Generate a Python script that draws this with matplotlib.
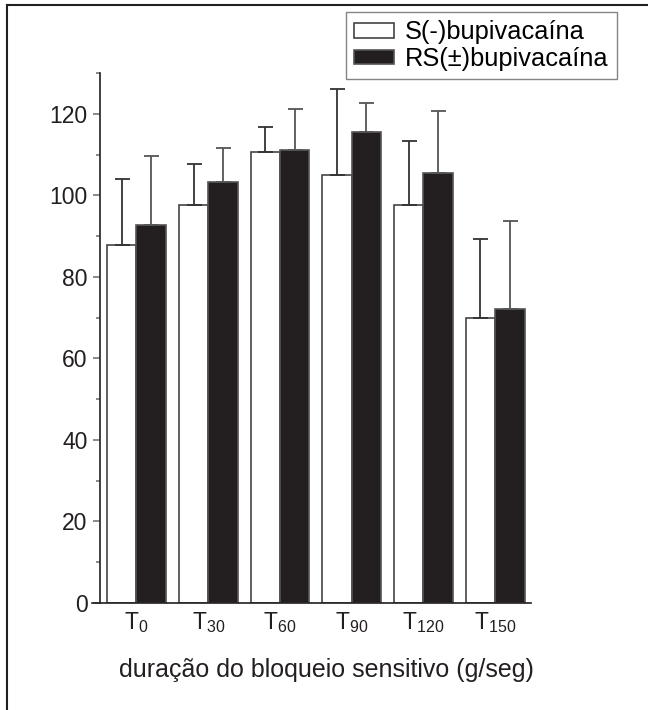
import numpy as np
import matplotlib
matplotlib.use("Agg")
import matplotlib.pyplot as plt
from matplotlib.lines import Line2D

plt.rcParams['font.family'] = ['Liberation Sans', 'DejaVu Sans']

# data
groups = ['0', '30', '60', '90', '120', '150']
s_mean = [87.7, 97.7, 110.5, 105.0, 97.7, 69.9]
s_sd = [16.3, 10.0, 6.3, 21.0, 15.5, 19.4]
rs_mean = [92.8, 103.3, 111.1, 115.5, 105.4, 72.1]
rs_sd = [16.8, 8.2, 10.1, 7.2, 15.2, 21.6]
labels = ['S(-)bupivacaína', 'RS(±)bupivacaína']

ink = '#231f20'
W, H = 648, 710

fig = plt.figure(figsize=(W / 100, H / 100), dpi=100)
ax = fig.add_axes([92 / W, 1 - 603 / H, (531 - 92) / W, (603 - 73) / H])

x = np.arange(len(groups))
w = 0.41

b1 = ax.bar(x - w / 2, s_mean, w, color='white', edgecolor='#444444', linewidth=1.2, label=labels[0])
b2 = ax.bar(x + w / 2, rs_mean, w, color=ink, edgecolor='#555555', linewidth=1.2, label=labels[1])
ax.errorbar(x - w / 2, s_mean, yerr=[np.zeros(len(x)), s_sd], fmt='none',
            ecolor='#333333', elinewidth=1.3, capsize=5.4, capthick=1.3)
ax.errorbar(x + w / 2, rs_mean, yerr=[np.zeros(len(x)), rs_sd], fmt='none',
            ecolor='#555555', elinewidth=1.3, capsize=5.4, capthick=1.3)

ax.set_xlim(-0.62, 5.5)
ax.set_ylim(0, 130)
ax.spines['top'].set_visible(False)
ax.spines['right'].set_visible(False)
ax.spines['left'].set_position(('data', -0.51))
ax.spines['left'].set_color(ink)
ax.spines['bottom'].set_color(ink)
ax.spines['left'].set_linewidth(1.2)
ax.spines['bottom'].set_linewidth(1.2)

ax.set_yticks(np.arange(0, 121, 20))
ax.set_yticks(np.arange(10, 131, 20), minor=True)
ax.tick_params(axis='y', which='major', length=5, width=1.2, color='#777777',
               labelsize=16.5, pad=4, labelcolor=ink)
ax.tick_params(axis='y', which='minor', length=3, width=1.2, color='#777777')
ax.set_xticks(x)
ax.set_xticklabels([r'$\mathregular{T_{%s}}$' % g for g in groups])
ax.tick_params(axis='x', length=0, labelsize=16.5, pad=5, labelcolor=ink)

ax.set_xlabel('duração do bloqueio sensitivo (g/seg)', fontsize=18, color=ink)
ax.xaxis.set_label_coords(0.535, -0.103)

fig.legend(handles=[b1, b2], labels=labels, loc='upper right',
           bbox_to_anchor=(617 / W, 1 - 12 / H), borderaxespad=0,
           fontsize=18.3, frameon=True, fancybox=False, edgecolor='#666666',
           handlelength=1.55, handleheight=0.5, handletextpad=0.45,
           labelspacing=0.1, borderpad=0.33)

# outer frame (top and left edges)
fig.add_artist(Line2D([7 / W, 1], [1 - 5 / H, 1 - 5 / H], color=ink, lw=1.5))
fig.add_artist(Line2D([7 / W, 7 / W], [1 - 5 / H, 0], color=ink, lw=1.5))

fig.savefig('out.png', dpi=100)
